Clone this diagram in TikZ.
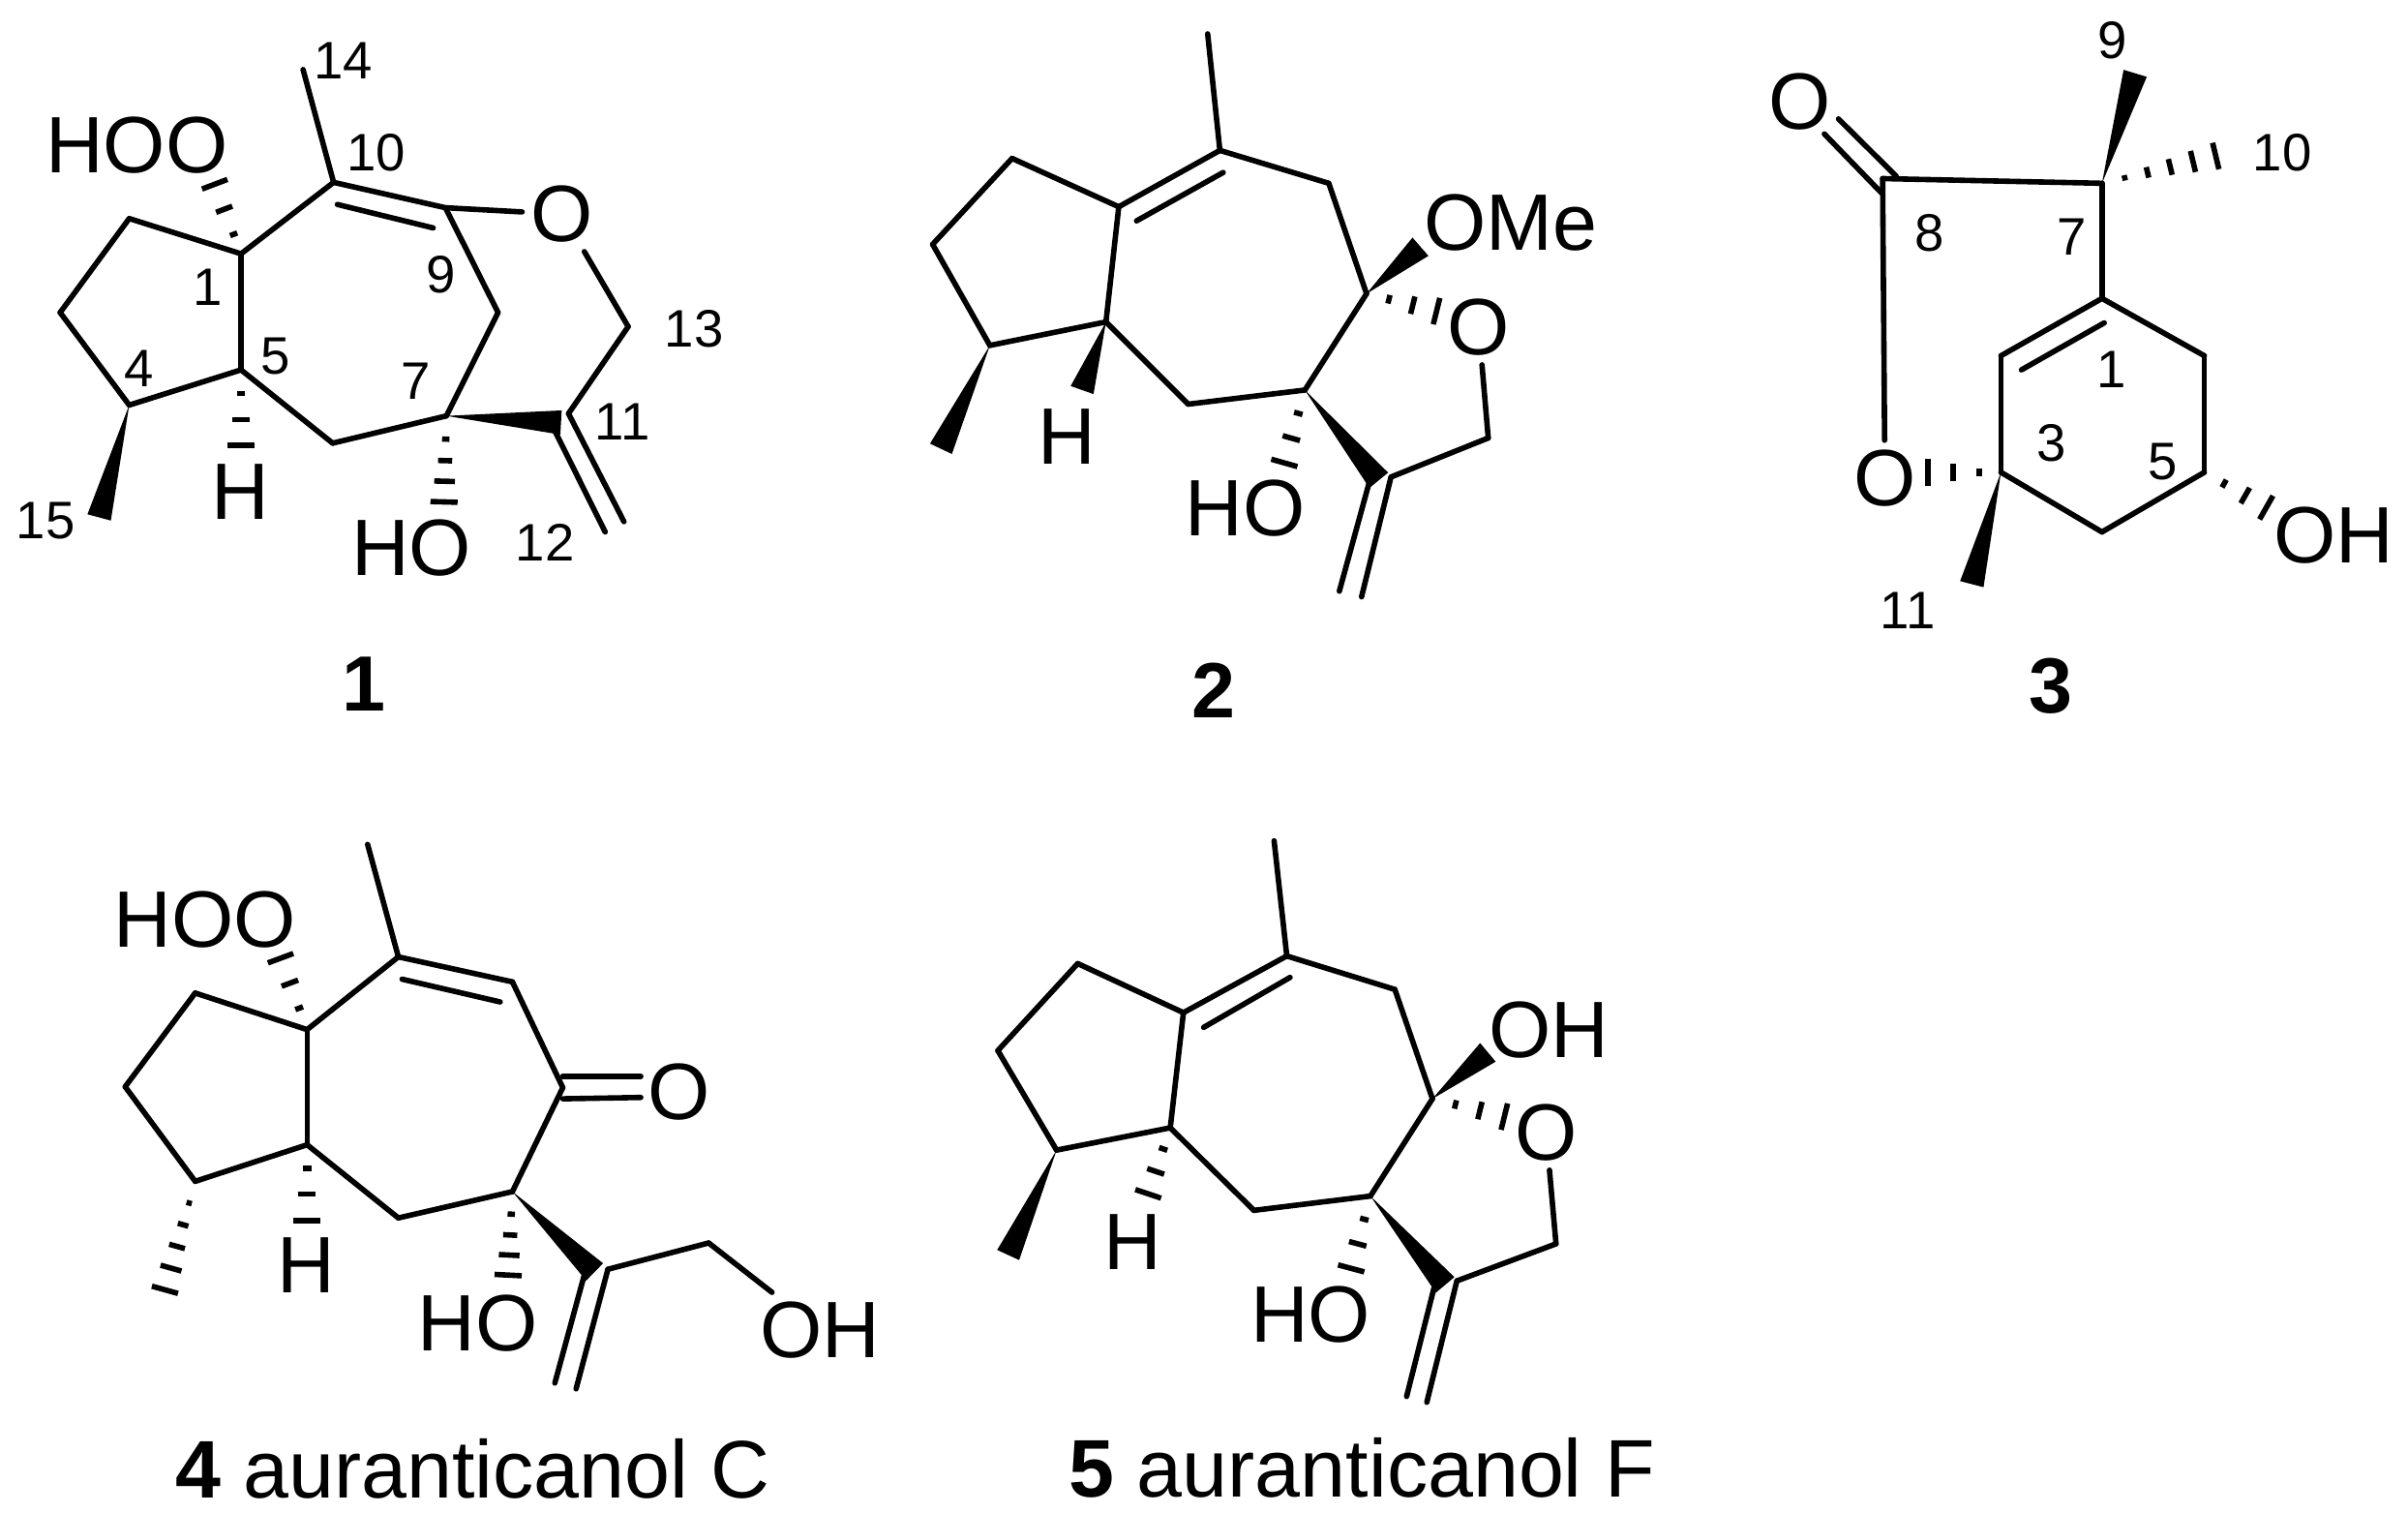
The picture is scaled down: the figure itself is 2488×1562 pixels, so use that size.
\documentclass[tikz,border=0pt]{standalone}
\usepackage{fontspec}
\setmainfont{Liberation Sans}
\usetikzlibrary{calc}
\tikzset{
	bond/.style={line width=0.056cm,line cap=round,line join=round},
	atom/.style={font=\fontsize{23.5}{24}\selectfont,inner sep=2.5pt,yshift=-0.5pt},
	num/.style={font=\fontsize{15.5}{16}\selectfont,inner sep=0pt},
	tag/.style={font=\fontsize{23}{23}\selectfont\bfseries,inner sep=0pt},
	caption/.style={font=\fontsize{24}{24}\selectfont,inner sep=0pt}
}
\newcommand{\wedgebond}[2]{\fill (#1) -- ($(#2)!0.125cm!90:(#1)$) -- ($(#2)!0.125cm!-90:(#1)$) -- cycle;}
\newcommand{\hashbond}[3]{\foreach \pos in {#3} \draw[bond,line cap=butt] ($(#1)!\pos!(#2)!{\pos*0.14cm}!90:(#1)$) -- ($(#1)!\pos!(#2)!{\pos*0.14cm}!-90:(#1)$);}
\begin{document}
\begin{tikzpicture}[x=0.01cm,y=-0.01cm]
	\useasboundingbox (0,0) rectangle (2488,1562);
	\begin{scope}[x=0.004847cm,y=-0.004847cm]
		\coordinate (a1) at (513,540);
		\coordinate (a2) at (275,465);
		\coordinate (a3) at (128,665);
		\coordinate (a4) at (275,862);
		\coordinate (a5) at (513,787);
		\coordinate (a6) at (708,943);
		\coordinate (a7) at (950,885);
		\coordinate (a8) at (1060,665);
		\coordinate (a9) at (948,442);
		\coordinate (a10) at (710,388);
		\coordinate (a10i) at (718,435);
		\coordinate (a9i) at (922,485);
		\coordinate (a14) at (645,148);
		\coordinate (a13) at (1337,695);
		\coordinate (a11) at (1210,880);
		\coordinate (a11w) at (1194,899);
		\coordinate (a11i) at (1180,915);
		\coordinate (a12) at (1328,1110);
		\coordinate (a12i) at (1288,1132);
		\coordinate (a15) at (211,1101);
		\coordinate (aho) at (945,1068);
		\coordinate (ah) at (513,948);
		\coordinate (ahoo) at (457,392);
		\node[atom] at (1197,452) (ao) {O};
		\node[atom] at (291,305) (ahootext) {HOO};
		\node[atom] at (512,1042) (ahtext) {H};
		\node[atom] at (876,1162) (ahotext) {HO};
		\node[num] at (730,130) (an14) {14};
		\node[num] at (800,325) (an10) {10};
		\node[num] at (443,612) (an1) {1};
		\node[num] at (938,585) (an9) {9};
		\node[num] at (587,757) (an5) {5};
		\node[num] at (295,785) (an4) {4};
		\node[num] at (885,812) (an7) {7};
		\node[num] at (1477,700) (an13) {13};
		\node[num] at (1325,897) (an11) {11};
		\node[num] at (1160,1155) (an12) {12};
		\node[num] at (97,1108) (an15) {15};
		\node[tag] at (775,1455) (atag) {1};
		\path[bond] (a1) edge (a2) (a2) edge (a3) (a3) edge (a4) (a4) edge (a5) (a5) edge (a1);
		\path[bond] (a1) edge (a10) (a10) edge (a9) (a9) edge (a8) (a8) edge (a7) (a7) edge (a6) (a6) edge (a5);
		\path[bond] (a10i) edge (a9i) (a10) edge (a14) (a9) edge (ao) (ao) edge (a13) (a13) edge (a11);
		\path[bond] (a11) edge (a12) (a11i) edge (a12i);
		\wedgebond{a7}{a11w}
		\wedgebond{a4}{a15}
		\hashbond{a7}{aho}{0.27,0.52,0.76,1}
		\hashbond{a5}{ah}{0.31,0.66,1}
		\hashbond{a1}{ahoo}{0.28,0.64,1}
	\end{scope}
	\begin{scope}[shift={(800,0)},x=0.00574cm,y=-0.004847cm]
		\coordinate (b1) at (620,440);
		\coordinate (b2) at (428,337);
		\coordinate (b3) at (285,520);
		\coordinate (b4) at (388,735);
		\coordinate (b5) at (597,685);
		\coordinate (b6) at (745,860);
		\coordinate (b7) at (955,830);
		\coordinate (b8) at (1066,625);
		\coordinate (b9) at (998,390);
		\coordinate (b10) at (802,320);
		\coordinate (b1i) at (652,470);
		\coordinate (b10i) at (808,367);
		\coordinate (b14) at (780,72);
		\coordinate (b15) at (300,955);
		\coordinate (bhw) at (554,830);
		\coordinate (bomew) at (1163,525);
		\coordinate (boh) at (1192,662);
		\coordinate (b13) at (1285,932);
		\coordinate (b11) at (1110,1015);
		\coordinate (b11w) at (1088,1022);
		\coordinate (b11i) at (1070,1030);
		\coordinate (b12) at (1057,1270);
		\coordinate (b12i) at (1017,1258);
		\coordinate (bho) at (918,985);
		\node[atom] at (527,925) (bhtext) {H};
		\node[atom] at (1326,470) (bome) {OMe};
		\node[atom] at (1268,693) (bo) {O};
		\node[atom] at (848,1078) (bhotext) {HO};
		\node[tag] at (790,1470) (btag) {2};
		\path[bond] (b1) edge (b2) (b2) edge (b3) (b3) edge (b4) (b4) edge (b5) (b5) edge (b1);
		\path[bond] (b1) edge (b10) (b10) edge (b9) (b9) edge (b8) (b8) edge (b7) (b7) edge (b6) (b6) edge (b5);
		\path[bond] (b1i) edge (b10i) (b10) edge (b14) (bo) edge (b13) (b13) edge (b11);
		\path[bond] (b11) edge (b12) (b11i) edge (b12i);
		\wedgebond{b4}{b15}
		\wedgebond{b5}{bhw}
		\wedgebond{b8}{bomew}
		\wedgebond{b7}{b11w}
		\hashbond{b8}{boh}{0.32,0.66,1}
		\hashbond{b7}{bho}{0.32,0.66,1}
	\end{scope}
	\begin{scope}[shift={(1750,0)},x=0.004707cm,y=-0.004847cm]
		\coordinate (c7) at (897,390);
		\coordinate (c8) at (415,380);
		\coordinate (c8a) at (445,375);
		\coordinate (c8b) at (412,410);
		\coordinate (c8c) at (318,253);
		\coordinate (c8d) at (287,285);
		\coordinate (c1) at (897,635);
		\coordinate (c6) at (1122,757);
		\coordinate (c5) at (1122,1005);
		\coordinate (c4) at (897,1132);
		\coordinate (c3) at (675,1005);
		\coordinate (c2) at (675,757);
		\coordinate (c2i) at (720,787);
		\coordinate (c1i) at (902,687);
		\coordinate (c9) at (970,156);
		\coordinate (c10) at (1147,332);
		\coordinate (c11) at (611,1243);
		\coordinate (choo) at (515,1005);
		\coordinate (cho) at (1258,1080);
		\node[atom] at (233,212) (co) {O};
		\node[atom] at (420,1013) (cor) {O};
		\node[atom] at (1406,1135) (cohtext) {OH};
		\node[num] at (920,85) (cn9) {9};
		\node[num] at (1293,325) (cn10) {10};
		\node[num] at (518,495) (cn8) {8};
		\node[num] at (830,505) (cn7) {7};
		\node[num] at (918,787) (cn1) {1};
		\node[num] at (787,942) (cn3) {3};
		\node[num] at (1030,982) (cn5) {5};
		\node[num] at (470,1300) (cn11) {11};
		\node[tag] at (785,1460) (ctag) {3};
		\path[bond] (c7) edge (c8) (c8) edge (cor) (c7) edge (c1);
		\path[bond] (c8a) edge (c8c) (c8b) edge (c8d);
		\path[bond] (c1) edge (c6) (c6) edge (c5) (c5) edge (c4) (c4) edge (c3) (c3) edge (c2) (c2) edge (c1);
		\path[bond] (c2i) edge (c1i);
		\wedgebond{c7}{c9}
		\wedgebond{c3}{c11}
		\hashbond{c7}{c10}{0.2,0.4,0.6,0.8,1}
		\hashbond{c3}{choo}{0.3,0.66,1}
		\hashbond{c5}{cho}{0.32,0.66,1}
	\end{scope}
	\begin{scope}[shift={(80,840)},x=0.005485cm,y=-0.004605cm]
		\coordinate (d1) at (433,485);
		\coordinate (d2) at (222,403);
		\coordinate (d3) at (90,613);
		\coordinate (d4) at (222,825);
		\coordinate (d5) at (433,743);
		\coordinate (d6) at (605,907);
		\coordinate (d7) at (820,848);
		\coordinate (d8) at (915,615);
		\coordinate (d8a) at (915,590);
		\coordinate (d8b) at (1062,590);
		\coordinate (d8c) at (915,640);
		\coordinate (d8d) at (1062,637);
		\coordinate (d9) at (820,378);
		\coordinate (d10) at (605,322);
		\coordinate (d10i) at (612,372);
		\coordinate (d9i) at (797,423);
		\coordinate (d14) at (547,70);
		\coordinate (d15) at (165,1068);
		\coordinate (d11) at (1000,1022);
		\coordinate (d11w) at (975,1028);
		\coordinate (d11i) at (955,1037);
		\coordinate (d12) at (940,1290);
		\coordinate (d12i) at (900,1277);
		\coordinate (d13) at (1190,963);
		\coordinate (dhoo) at (383,325);
		\coordinate (dh) at (433,913);
		\coordinate (dho) at (812,1035);
		\node[atom] at (1135,620) (do) {O};
		\node[atom] at (240,234) (dhootext) {HOO};
		\node[atom] at (432,1010) (dhtext) {H};
		\node[atom] at (755,1139) (dhotext) {HO};
		\node[atom] at (1400,1154) (dohtext) {OH};
		\node[caption] at (745,1470) (dtag) {\textbf{4} auranticanol C};
		\path[bond] (d1) edge (d2) (d2) edge (d3) (d3) edge (d4) (d4) edge (d5) (d5) edge (d1);
		\path[bond] (d1) edge (d10) (d10) edge (d9) (d9) edge (d8) (d8) edge (d7) (d7) edge (d6) (d6) edge (d5);
		\path[bond] (d10i) edge (d9i) (d10) edge (d14) (d8a) edge (d8b) (d8c) edge (d8d);
		\path[bond] (d11) edge (d12) (d11i) edge (d12i) (d11) edge (d13) (d13) edge (dohtext);
		\wedgebond{d7}{d11w}
		\hashbond{d1}{dhoo}{0.3,0.65,1}
		\hashbond{d5}{dh}{0.31,0.65,1}
		\hashbond{d4}{d15}{0.2,0.4,0.6,0.8,1}
		\hashbond{d7}{dho}{0.27,0.52,0.76,1}
	\end{scope}
	\begin{scope}[shift={(980,840)},x=0.004847cm,y=-0.004605cm]
		\coordinate (e1) at (500,447);
		\coordinate (e2) at (275,337);
		\coordinate (e3) at (105,532);
		\coordinate (e4) at (230,755);
		\coordinate (e5) at (472,705);
		\coordinate (e6) at (650,890);
		\coordinate (e7) at (898,858);
		\coordinate (e8) at (1030,640);
		\coordinate (e9) at (950,395);
		\coordinate (e10) at (720,320);
		\coordinate (e1i) at (543,480);
		\coordinate (e10i) at (727,368);
		\coordinate (e14) at (693,62);
		\coordinate (e15) at (127,990);
		\coordinate (eh) at (425,853);
		\coordinate (eohw) at (1148,536);
		\coordinate (eoh) at (1183,680);
		\coordinate (e13) at (1293,965);
		\coordinate (e11) at (1082,1048);
		\coordinate (e11w) at (1057,1057);
		\coordinate (e11i) at (1033,1065);
		\coordinate (e12) at (1018,1320);
		\coordinate (e12i) at (975,1307);
		\coordinate (eho) at (857,1020);
		\node[atom] at (392,958) (ehtext) {H};
		\node[atom] at (1278,482) (eohtext) {OH};
		\node[atom] at (1272,712) (eo) {O};
		\node[atom] at (771,1119) (ehotext) {HO};
		\node[caption] at (880,1466) (etag) {\textbf{5} auranticanol F};
		\path[bond] (e1) edge (e2) (e2) edge (e3) (e3) edge (e4) (e4) edge (e5) (e5) edge (e1);
		\path[bond] (e1) edge (e10) (e10) edge (e9) (e9) edge (e8) (e8) edge (e7) (e7) edge (e6) (e6) edge (e5);
		\path[bond] (e1i) edge (e10i) (e10) edge (e14) (eo) edge (e13) (e13) edge (e11);
		\path[bond] (e11) edge (e12) (e11i) edge (e12i);
		\wedgebond{e4}{e15}
		\wedgebond{e8}{eohw}
		\wedgebond{e7}{e11w}
		\hashbond{e5}{eh}{0.32,0.66,1}
		\hashbond{e8}{eoh}{0.32,0.66,1}
		\hashbond{e7}{eho}{0.32,0.66,1}
	\end{scope}
\end{tikzpicture}
\end{document}
